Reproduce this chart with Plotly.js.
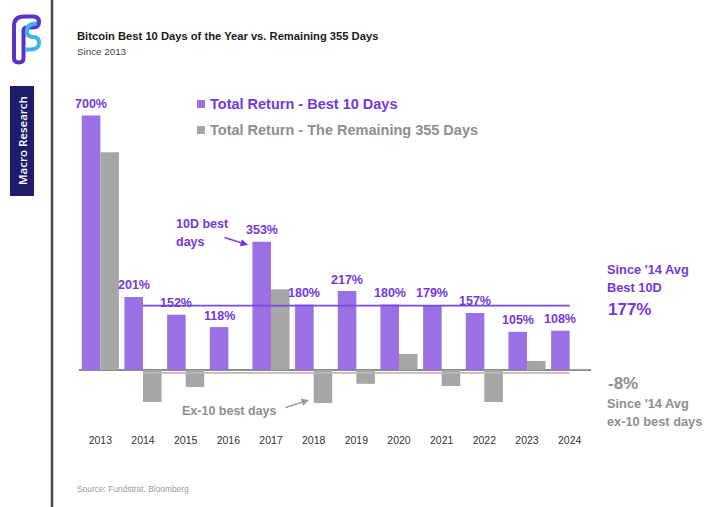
<!DOCTYPE html>
<html>
<head>
<meta charset="utf-8">
<script src="https://cdn.plot.ly/plotly-3.0.1.min.js"></script>
<style>html,body{margin:0;padding:0;background:#fff;}#chart{width:726px;height:507px;}</style>
</head>
<body>
<div id="chart"></div>
<script>
// ---- data ----
const years = ["2013","2014","2015","2016","2017","2018","2019","2020","2021","2022","2023","2024"];
const best10 = [700, 201, 152, 118, 353, 180, 217, 180, 179, 157, 105, 108];
const remaining = [599, -88, -47, -1, 222, -91, -38, 44, -44, -88, 25, 3];
const avgYears = ["2014","2024"];
const avgBest10 = 177;
const avgRemaining = -8;
const seriesNames = ["Total Return - Best 10 Days", "Total Return - The Remaining 355 Days"];

// ---- geometry helpers (pixel -> paper) ----
const L = 79, T = 100, PW = 512, PH = 317;
const px = x => (x - L) / PW;
const py = y => (T + PH - y) / PH;

const PURPLE_BAR = "#9a70e4";
const GRAY_BAR = "#a6a6a6";
const PURPLE_TXT = "#7438df";
const GRAY_TXT = "#8e8e8e";
const FONT = "Liberation Sans, Arial, sans-serif";

const traces = [
  {type: "bar", x: years, y: best10, name: seriesNames[0], marker: {color: PURPLE_BAR}, hoverinfo: "none"},
  {type: "bar", x: years, y: remaining, name: seriesNames[1], marker: {color: GRAY_BAR}, hoverinfo: "none"},
  {type: "scatter", mode: "lines", x: avgYears, y: avgYears.map(() => avgRemaining), line: {color: "#b9b9b9", width: 1.6}, hoverinfo: "none"},
  {type: "scatter", mode: "lines", x: avgYears, y: avgYears.map(() => avgBest10), line: {color: "#7a48e0", width: 1.6}, hoverinfo: "none"}
];

const ann = [];
function txt(x, y, text, size, color, bold, anchor) {
  ann.push({xref: "paper", yref: "paper", x: px(x), y: py(y), text: bold ? "<b>" + text + "</b>" : text,
    showarrow: false, xanchor: anchor || "left", yanchor: "middle",
    font: {family: FONT, size: size, color: color}});
}
// value labels above purple bars (category index on the x axis)
best10.forEach((v, i) => {
  ann.push({x: i, y: v, xref: "x", yref: "y", text: "<b>" + v + "%</b>", showarrow: false,
    xshift: -9.3, yshift: 11.5, yanchor: "middle", xanchor: "center",
    font: {family: FONT, size: 12.5, color: PURPLE_TXT}});
});
// title / subtitle / source
txt(75, 36, "Bitcoin Best 10 Days of the Year vs. Remaining 355 Days", 11.2, "#1a1a1a", true);
txt(75, 51, "Since 2013", 9.8, "#444444", false);
txt(75, 489, "Source: Fundstrat, Bloomberg", 8.4, "#9a9a9a", false);
// legend text
txt(208, 104, seriesNames[0], 14.5, PURPLE_TXT, true);
txt(208, 130, seriesNames[1], 14.5, GRAY_TXT, true);
// callouts
txt(174, 224, "10D best", 12.5, PURPLE_TXT, true);
txt(174, 242, "days", 12.5, PURPLE_TXT, true);
txt(180, 411, "Ex-10 best days", 12.5, GRAY_TXT, true);
txt(605, 269, "Since '14 Avg", 12.8, PURPLE_TXT, true);
txt(605, 287, "Best 10D", 12.8, PURPLE_TXT, true);
txt(606, 309, "177%", 17, PURPLE_TXT, true);
txt(606, 383, "-8%", 17, GRAY_TXT, true);
txt(605, 403, "Since '14 Avg", 12.8, GRAY_TXT, true);
txt(605, 421, "ex-10 best days", 12.8, GRAY_TXT, true);
// Macro Research vertical label
ann.push({xref: "paper", yref: "paper", x: px(22), y: py(141), text: "Macro Research", textangle: -90,
  showarrow: false, xanchor: "center", yanchor: "middle",
  font: {family: "Open Sans, Liberation Sans, sans-serif", size: 11.5, color: "#ffffff", weight: 600}});
// arrows
function arrow(x0, y0, x1, y1, color) {
  ann.push({xref: "paper", yref: "paper", x: px(x1), y: py(y1), ax: x0 - x1, ay: y0 - y1, axref: "pixel", ayref: "pixel",
    text: "", showarrow: true, arrowhead: 2, arrowsize: 1, arrowwidth: 1.5, arrowcolor: color});
}
arrow(223, 237, 248, 245, PURPLE_TXT);
arrow(284, 408, 309, 400, "#9a9a9a");

const shapes = [];
function rectPx(x0, y0, x1, y1, color) {
  shapes.push({type: "rect", xref: "paper", yref: "paper", x0: px(x0), x1: px(x1), y0: py(y1), y1: py(y0),
    fillcolor: color, line: {width: 0}, layer: "above"});
}
rectPx(197, 100, 205, 108, PURPLE_BAR);
rectPx(197, 126, 205, 134, GRAY_BAR);
// left vertical rule
shapes.push({type: "line", xref: "paper", yref: "paper", x0: px(52), x1: px(52), y0: py(0), y1: py(507),
  line: {color: "#4a4a4a", width: 2.5}});
// Macro Research box
shapes.push({type: "rect", xref: "paper", yref: "paper", x0: px(10), x1: px(34), y0: py(196), y1: py(86),
  fillcolor: "#1f1c6c", line: {width: 0}, layer: "below"});
// logo
function pathPx(cmds) {
  return cmds.map(c => typeof c === "string" ? c : px(c[0]) + "," + py(c[1])).join(" ");
}
shapes.push({type: "path", xref: "paper", yref: "paper",
  path: pathPx(["M", [14, 59], "L", [14, 26], "Q", [14, 16.5], [24, 16.5], "L", [33, 16.5], "Q", [39, 16.5], [39, 22],
    "Q", [39, 27.5], [33, 27.5], "L", [27, 27.5], "Q", [23.5, 27.5], [23.5, 31], "L", [23.5, 58], "Q", [23.5, 62.5], [19, 62.5],
    "Q", [14, 62.5], [14, 58], "Z"]),
  line: {color: "#5b31c8", width: 4}, fillcolor: "rgba(0,0,0,0)"});
shapes.push({type: "path", xref: "paper", yref: "paper",
  path: pathPx(["M", [37, 23.5], "Q", [27, 23.5], [27, 31], "Q", [27, 37], [33, 37], "Q", [39, 37], [39, 43],
    "Q", [39, 49.5], [30, 49.5], "L", [25, 49.5]]),
  line: {color: "#3db3ef", width: 4}, fillcolor: "rgba(0,0,0,0)"});

const layout = {
  width: 726, height: 507,
  margin: {l: L, r: 726 - L - PW, t: T, b: 507 - T - PH},
  paper_bgcolor: "#ffffff", plot_bgcolor: "#ffffff",
  showlegend: false,
  barmode: "group", bargap: 0.13, bargroupgap: 0,
  font: {family: FONT},
  xaxis: {type: "category", range: [-0.5, 11.5], showgrid: false, showline: false, ticks: "",
    tickfont: {family: FONT, size: 10.5, color: "#333333"}, ticklabelstandoff: 15, fixedrange: true},
  yaxis: {range: [-129.3, 742.6], showgrid: false, showticklabels: false, ticks: "",
    zeroline: true, zerolinecolor: "#8a8a8a", zerolinewidth: 1.5, fixedrange: true},
  annotations: ann,
  shapes: shapes
};

Plotly.newPlot("chart", traces, layout, {displayModeBar: false, staticPlot: true});
</script>
</body>
</html>
